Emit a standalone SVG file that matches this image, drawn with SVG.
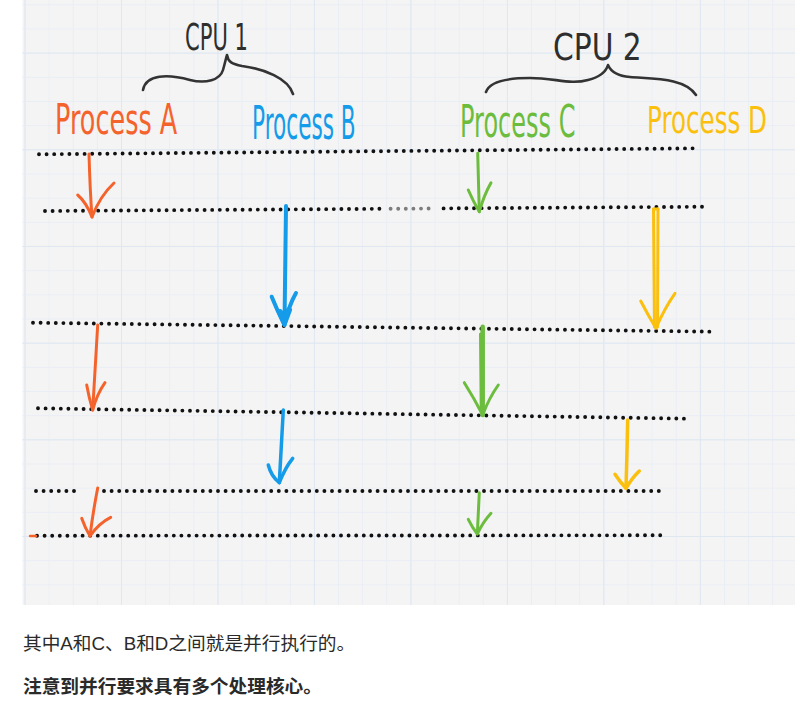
<svg xmlns="http://www.w3.org/2000/svg" width="795" height="714" viewBox="0 0 795 714">
<defs>
<pattern id="minor" patternUnits="userSpaceOnUse" x="24.5" y="4.3" width="24.12" height="24.17">
<path d="M0 0.5H24.12M0.5 0V24.17" stroke="#e9eef5" stroke-width="1" fill="none"/>
</pattern>
<pattern id="major" patternUnits="userSpaceOnUse" x="24.5" y="52.6" width="96.48" height="96.68">
<path d="M0 0.5H96.48M0.5 0V96.68" stroke="#dfe7f1" stroke-width="1" fill="none"/>
</pattern>
</defs>
<style>
.dots{stroke:#111;stroke-width:3.9;stroke-linecap:round;stroke-dasharray:0 7.6;fill:none}
.hand{fill:none;stroke-linecap:round;stroke-linejoin:round}
.orange{stroke:#f5632c;stroke-width:3}
.blue{stroke:#149be9;stroke-width:4}
.green{stroke:#6cbd3e;stroke-width:3}
.yellow{stroke:#fbbf0e;stroke-width:3}
.brace{stroke:#333;stroke-width:2.6}
.lbl{font-family:"DejaVu Sans","Liberation Sans",sans-serif;font-weight:normal;font-size:30px}
.cpu{font-family:"DejaVu Sans","Liberation Sans",sans-serif;fill:#2e2e2e;font-size:27px}
.cap{font-family:"Liberation Sans","Noto Sans CJK SC",sans-serif;font-size:18.7px;fill:#2a2a2a}
</style>
<rect x="0" y="0" width="795" height="714" fill="#ffffff"/>
<rect x="22.5" y="0" width="772.5" height="605" fill="#f4f4f4"/>
<rect x="22.5" y="0" width="772.5" height="605" fill="url(#minor)"/>
<rect x="22.5" y="0" width="772.5" height="605" fill="url(#major)"/>

<g id="cpu1">
<text class="cpu" transform="translate(185,50) scale(0.78,1.37)">CPU 1</text>
<path class="hand brace" d="M143,90 C146,74 168,74 190,80 C206,84 220,80 223,70 C225,63 226,58 227,55 C228,62 232,64 242,66 C264,69 288,78 293,94"/>
</g>
<g id="cpu2">
<text class="cpu" transform="translate(553,60) scale(1.1,1.37)">CPU 2</text>
<path class="hand brace" d="M486,92 C490,80 512,78 530,78 C555,78 570,85 588,80 C600,77 606,72 608,65 C611,72 618,76 630,77 C655,79 685,78 696,95"/>
</g>

<g id="processA"><text class="lbl" fill="#f5632c" transform="translate(55,134) scale(0.85,1.45)">Process A</text></g>
<g id="processB"><text class="lbl" fill="#149be9" transform="translate(252,139) scale(0.72,1.55)">Process B</text></g>
<g id="processC"><text class="lbl" fill="#6cbd3e" transform="translate(460,137) scale(0.8,1.5)">Process C</text></g>
<g id="processD"><text class="lbl" fill="#fbbf0e" transform="translate(647,133) scale(0.82,1.25)">Process D</text></g>

<g id="timelines">
<line class="dots" x1="39" y1="154.3" x2="698" y2="148.3"/>
<line class="dots" x1="45" y1="211" x2="383" y2="208.8"/>
<line class="dots" x1="390.6" y1="208.8" x2="436" y2="208.5" style="stroke:#7d7d7d"/>
<line class="dots" x1="443.6" y1="208.4" x2="707" y2="206.7"/>
<line class="dots" x1="33" y1="322.7" x2="712" y2="331.7"/>
<line class="dots" x1="38" y1="408.3" x2="687" y2="418.7"/>
<line class="dots" x1="36" y1="491" x2="80" y2="491"/>
<line class="dots" x1="104" y1="491" x2="662" y2="491"/>
<line class="dots" x1="37" y1="535.7" x2="663" y2="535.3"/>
<line x1="30" y1="536" x2="36" y2="536" stroke="#f5632c" stroke-width="2.5" stroke-linecap="round"/>
</g>

<g id="connectors">
<g id="arrowsA" class="hand orange">
<path d="M89,154 Q90,190 92,217"/>
<path d="M77.7,195 Q86,202 92,217 Q100,196 114,183"/>
<path d="M97.7,325 Q95,370 92.7,410"/>
<path d="M86.7,385 Q89,398 92.7,410 Q97,394 105,382.7"/>
<path d="M97.7,488 Q93,512 90,536"/>
<path d="M81.7,518.3 Q85,528 90,536 Q99,523 110.7,517.3"/>
</g>
<g id="arrowsB" class="hand blue">
<path d="M286,206 L284.5,325"/>
<path d="M271.7,296.7 Q277,310 284.5,325 Q289,305 296,293"/>
<path d="M280,312 L284.5,322 L289,310" stroke-width="6"/>
<path d="M283.3,410 Q281,450 279.3,482.7" style="stroke-width:3.5"/>
<path d="M268.3,465 Q271,476 279.3,482.7 Q285,468 292.7,458.3" style="stroke-width:3.5"/>
</g>
<g id="arrowsC" class="hand green">
<path d="M477.7,153.3 L479.3,211.7"/>
<path d="M468.3,190 Q473,201 479.3,211.7 Q484,195 491,182.7"/>
<path d="M482.7,326.7 L482.7,415" style="stroke-width:4.5"/>
<path d="M480.5,334 L481.2,408"/>
<path d="M464.3,382.7 Q474,398 482.7,415 Q489,398 498.3,385"/>
<path d="M479.3,492.7 L477.3,534"/>
<path d="M468.3,519.3 Q472,527 477.3,534 Q483,522 491,513.3"/>
</g>
<g id="arrowsD" class="hand yellow">
<path d="M653.5,209 L654.5,327"/>
<path d="M658,209 L657.5,327"/>
<path d="M653.5,209 L658,209"/>
<path d="M640.7,301 Q648,315 656,328.3 Q664,309 675,293.3"/>
<path d="M627.7,420 Q627,455 626,488.3" style="stroke-width:3.5"/>
<path d="M615,474.3 Q620,482 626,488.3 Q632,478 639.3,471" style="stroke-width:3.5"/>
</g>
</g>

<g id="caption">
<text class="cap" x="23" y="650">其中A和C、B和D之间就是并行执行的。</text>
<text class="cap" x="23" y="693" font-weight="bold">注意到并行要求具有多个处理核心。</text>
</g>
</svg>
